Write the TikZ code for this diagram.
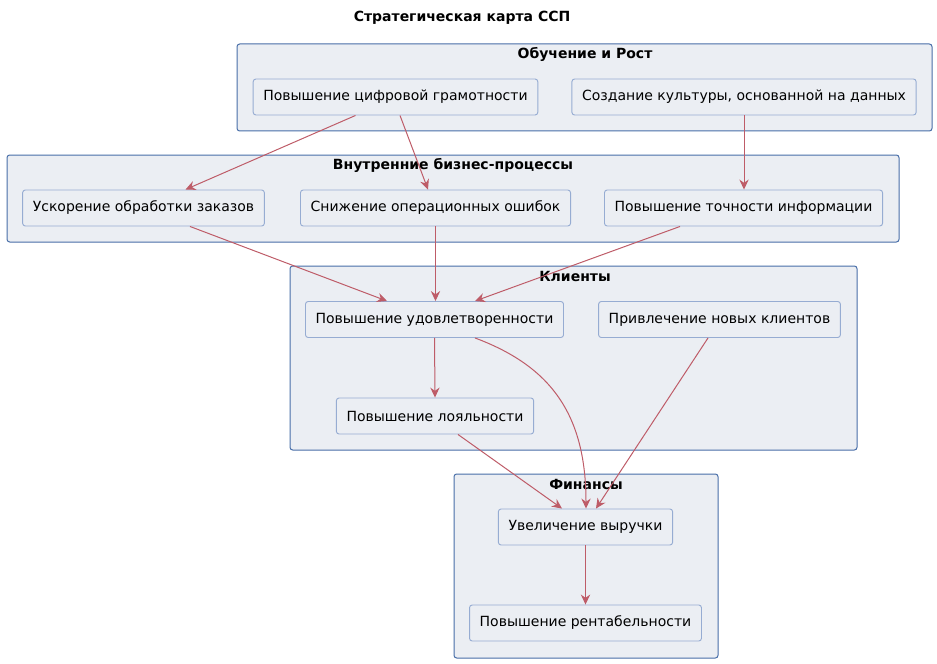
\documentclass[tikz,border=0pt]{standalone}
\usepackage{fontspec}
\setmainfont{DejaVu Sans}
\usepackage{tikz}
\usetikzlibrary{arrows.meta,calc}
\definecolor{pkgfill}{RGB}{235,238,243}
\definecolor{pkgline}{RGB}{72,110,168}
\definecolor{boxline}{RGB}{150,172,210}
\definecolor{linkred}{RGB}{190,92,104}
\tikzset{
  sspframe/.style={fill=pkgfill,draw=pkgline,line width=0.75pt,rounded corners=2pt},
  sspframetitle/.style={font=\fontsize{10.5}{12}\selectfont\bfseries,inner sep=0pt},
  sspbox/.style={fill=pkgfill,draw=boxline,line width=0.7pt,rounded corners=2pt,
    minimum height=27pt,inner xsep=7.6pt,font=\fontsize{10.5}{12}\selectfont},
  ssplink/.style={draw=linkred,line width=0.75pt,
    -{Stealth[length=7.5pt,width=7pt,inset=2.5pt]}}
}

\begin{document}
\begin{tikzpicture}[x=0.75pt,y=-0.75pt]
  \useasboundingbox (0,0) rectangle (937,663);
  \node[sspframetitle] (title) at (462,18) {Стратегическая карта ССП};
  % frames
  \draw[sspframe] (237,44) rectangle (932,131);
  \node[sspframetitle] (learn) at (585,54) {Обучение и Рост};
  \draw[sspframe] (7,155) rectangle (899,242);
  \node[sspframetitle] (intern) at (453,165) {Внутренние бизнес-процессы};
  \draw[sspframe] (290,266) rectangle (857,450);
  \node[sspframetitle] (client) at (575,276) {Клиенты};
  \draw[sspframe] (454,474) rectangle (718,658);
  \node[sspframetitle] (finance) at (586,484) {Финансы};
  % goals
  \node[sspbox] (cifr) at (395.5,97) {Повышение цифровой грамотности};
  \node[sspbox] (kult) at (744,97) {Создание культуры, основанной на данных};
  \node[sspbox] (uskor) at (143.5,208) {Ускорение обработки заказов};
  \node[sspbox] (snizh) at (435.5,208) {Снижение операционных ошибок};
  \node[sspbox] (tochn) at (743.5,208) {Повышение точности информации};
  \node[sspbox] (udovl) at (434.5,319.5) {Повышение удовлетворенности};
  \node[sspbox] (privl) at (719.5,319.5) {Привлечение новых клиентов};
  \node[sspbox] (loyal) at (435,416) {Повышение лояльности};
  \node[sspbox] (vyru) at (585.5,527) {Увеличение выручки};
  \node[sspbox] (rent) at (585.5,623) {Повышение рентабельности};
  % links
  \draw[ssplink] ($(cifr.south)+(-40,0)$) -- ($(uskor.north)+(42,0)$);
  \draw[ssplink] ($(cifr.south)+(4.5,0)$) -- ($(snizh.north)+(-7.5,0)$);
  \draw[ssplink] (kult.south) -- (kult.south |- tochn.north);
  \draw[ssplink] ($(uskor.south)+(46.5,0)$) -- ($(udovl.north)+(-47.5,0)$);
  \draw[ssplink] (snizh.south) -- (snizh.south |- udovl.north);
  \draw[ssplink] ($(tochn.south)+(-63.5,0)$) -- ($(udovl.north)+(40.5,0)$);
  \draw[ssplink] (udovl.south) -- (loyal.north);
  \draw[ssplink] ($(udovl.south)+(40.5,0)$) .. controls +(75,28) and +(0,-95) .. ($(vyru.north)+(0.5,0)$);
  \draw[ssplink] ($(privl.south)+(-11.5,0)$) -- ($(vyru.north)+(10.5,0)$);
  \draw[ssplink] ($(loyal.south)+(23,0)$) -- ($(vyru.north)+(-23.5,0)$);
  \draw[ssplink] (vyru.south) -- (rent.north);
\end{tikzpicture}
\end{document}
